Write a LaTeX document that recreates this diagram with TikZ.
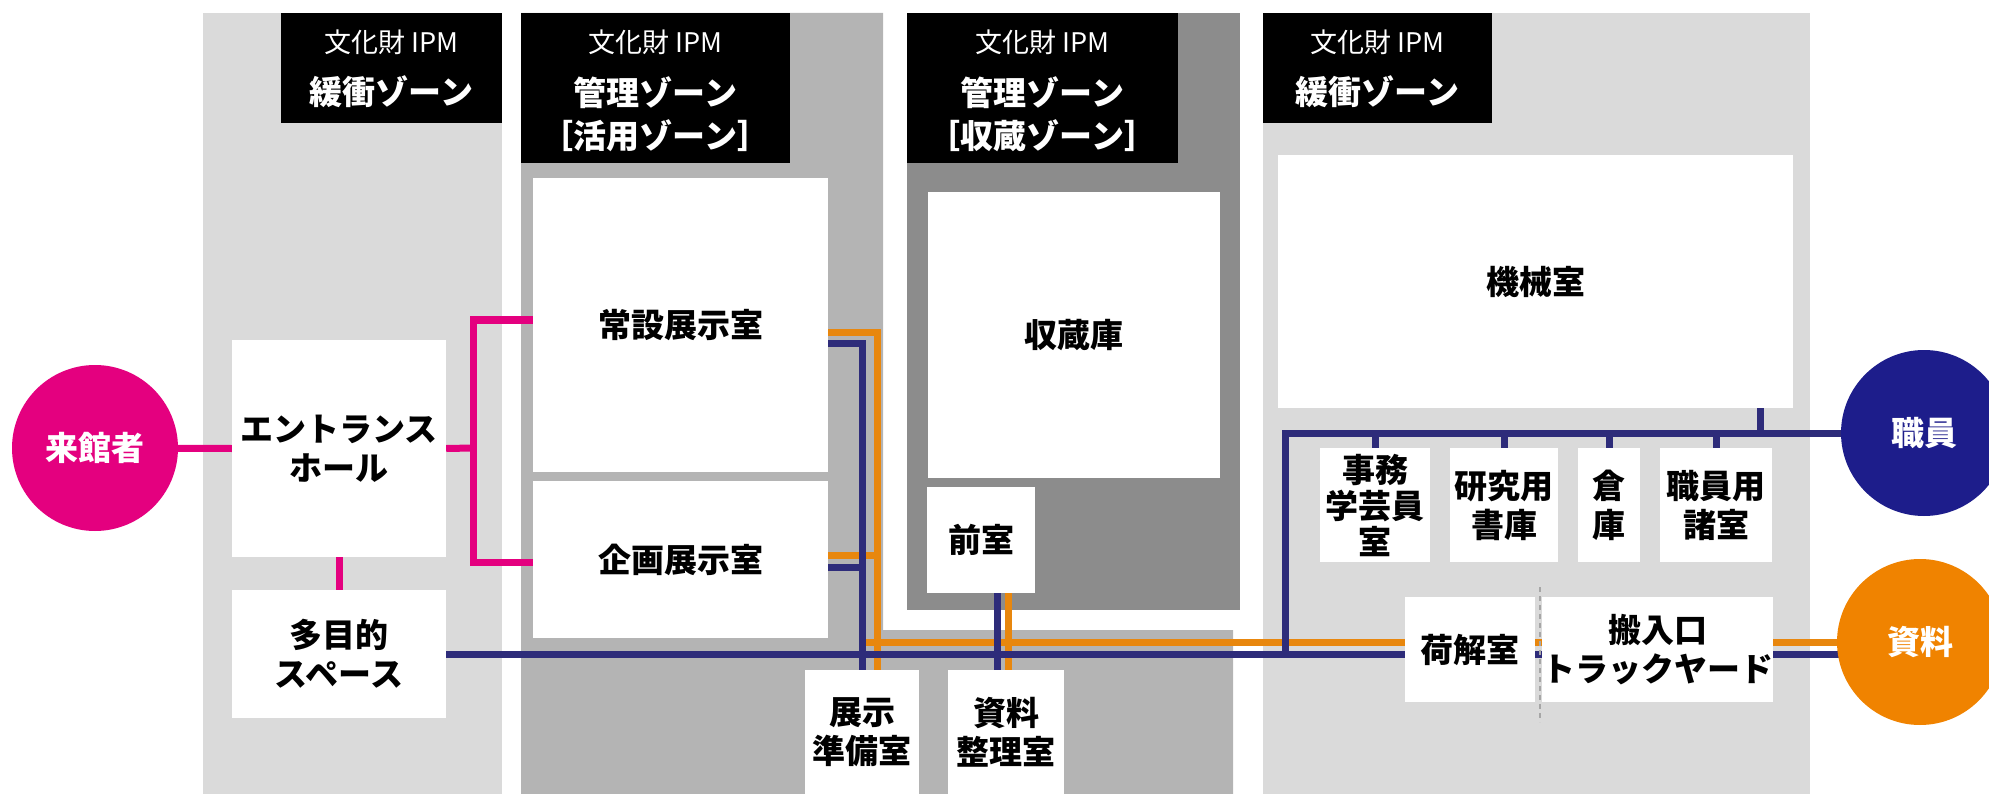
\documentclass[tikz,border=0pt]{standalone}
\usepackage{fontspec}
\setmainfont{Noto Sans CJK JP}
\usetikzlibrary{calc}
\definecolor{plight}{HTML}{DADADA}
\definecolor{pmid}{HTML}{B4B4B4}
\definecolor{pdark}{HTML}{8C8C8C}
\definecolor{mag}{HTML}{E4007F}
\definecolor{nav}{HTML}{2E2C7A}
\definecolor{navc}{HTML}{1D1D8B}
\definecolor{org}{HTML}{E8870E}
\definecolor{orgc}{HTML}{F08300}
\pgfdeclarelayer{bg}
\pgfdeclarelayer{lines}
\pgfsetlayers{bg,lines,main}
\tikzset{
  room/.style={fill=white, inner sep=0pt, align=center, font=\fontsize{33}{39}\selectfont\bfseries},
  zbox/.style={fill=black, inner sep=0pt},
  ztop/.style={text=white, inner sep=0pt, font=\fontsize{27}{30}\selectfont},
  zname/.style={text=white, inner sep=0pt, font=\fontsize{33}{36}\selectfont\bfseries},
  circ/.style={circle, inner sep=0pt, minimum size=166pt, text=white, font=\fontsize{33}{39}\selectfont\bfseries},
  magl/.style={draw=mag, line width=7pt},
  navl/.style={draw=nav, line width=7pt},
  orgl/.style={draw=org, line width=7pt},
}
\begin{document}
\begin{tikzpicture}[x=1pt,y=-1pt]
\useasboundingbox (0,0) rectangle (1989,794);
% zone panels
\begin{pgfonlayer}{bg}
\fill[plight] (203,13) rectangle (502,794);
\fill[pmid] (521,13) -- (883,13) -- (883,630) -- (1233,630) -- (1233,794) -- (521,794) -- cycle;
\fill[pdark] (907,13) rectangle (1240,610);
\fill[plight] (1263,13) rectangle (1810,794);
\end{pgfonlayer}
% zone labels
\node[zbox, minimum width=221pt, minimum height=110pt] (lab1) at (391.5,68) {};
\node[ztop] (lab1a) at (391.5,42) {文化財 IPM};
\node[zname] (lab1b) at (391.5,92) {緩衝ゾーン};
\node[zbox, minimum width=269pt, minimum height=150pt] (lab2) at (655.5,88) {};
\node[ztop] (lab2a) at (655.5,42) {文化財 IPM};
\node[zname] (lab2b) at (655.5,93) {管理ゾーン};
\node[zname] (lab2c) at (655.5,136) {［活用ゾーン］};
\node[zbox, minimum width=271pt, minimum height=150pt] (lab3) at (1042.5,88) {};
\node[ztop] (lab3a) at (1042.5,42) {文化財 IPM};
\node[zname] (lab3b) at (1042.5,93) {管理ゾーン};
\node[zname] (lab3c) at (1042.5,136) {［収蔵ゾーン］};
\node[zbox, minimum width=229pt, minimum height=110pt] (lab4) at (1377.5,68) {};
\node[ztop] (lab4a) at (1377.5,42) {文化財 IPM};
\node[zname] (lab4b) at (1377.5,92) {緩衝ゾーン};
% rooms
\node[room, minimum width=214pt, minimum height=217pt] (ent) at (339,448.5) {エントランス\\ホール};
\node[room, minimum width=214pt, minimum height=128pt] (tamoku) at (339,654) {多目的\\スペース};
\node[room, minimum width=295pt, minimum height=294pt] (jousetsu) at (680.5,325) {常設展示室};
\node[room, minimum width=295pt, minimum height=157pt] (kikaku) at (680.5,559.5) {企画展示室};
\node[room, minimum width=292pt, minimum height=286pt] (shuzou) at (1074,335) {収蔵庫};
\node[room, minimum width=108pt, minimum height=106pt] (zen) at (981,540) {前室};
\node[room, minimum width=114pt, minimum height=124pt] (tenji) at (862,732) {展示\\準備室};
\node[room, minimum width=116pt, minimum height=124pt] (seiri) at (1006,732) {資料\\整理室};
\node[room, minimum width=515pt, minimum height=253pt] (kikai) at (1535.5,281.5) {機械室};
\node[room, minimum width=110pt, minimum height=114pt, font=\fontsize{33}{36}\selectfont\bfseries] (jimu) at (1375,505) {事務\\学芸員\\室};
\node[room, minimum width=108pt, minimum height=114pt] (kenkyu) at (1504,505) {研究用\\書庫};
\node[room, minimum width=62pt, minimum height=114pt] (souko) at (1609,505) {倉\\庫};
\node[room, minimum width=112pt, minimum height=114pt] (shokuin) at (1716,505) {職員用\\諸室};
\node[room, minimum width=130pt, minimum height=105pt] (nitoki) at (1470,649.5) {荷解室};
\node[room, minimum width=225pt, minimum height=105pt] (hannyu) at (1657.5,649.5) {搬入口\\トラックヤード};
\draw[gray!70, line width=1.5pt, dash pattern=on 5pt off 4pt] (1540,587) -- (1540,722);
% people / things
\node[circ, fill=mag] (vis) at (95,448) {来館者};
\node[circ, fill=navc] (staff) at (1924,433) {職員};
\node[circ, fill=orgc] (mat) at (1920,642) {資料};
% connectors
\coordinate (brk) at (473,448);
\coordinate (bt) at (473,320);
\coordinate (bb) at (473,562);
\coordinate (jo) at (828,332);
\coordinate (jn) at (828,343);
\coordinate (ko) at (828,555);
\coordinate (kn) at (828,567);
\coordinate (o0) at (862,642);
\coordinate (zn) at (997,593);
\coordinate (zo) at (1008,593);
\coordinate (oc) at (1285,654);
\coordinate (ks) at (1760,408);
\coordinate (tno) at ([xshift=15pt]tenji.north);
\begin{pgfonlayer}{lines}
\draw[magl] (vis) -- (ent.west);
\draw[magl] (ent.east) -- (brk);
\draw[magl] (bt -| jousetsu.west) -- (bt) -- (bb) -- (bb -| kikaku.west);
\draw[magl] (ent.south) -- (tamoku.north);
\draw[orgl] (o0) -- (o0 -| mat);
\draw[orgl] (jo) -| (tno);
\draw[orgl] (ko) -- (ko -| tno);
\draw[orgl] (zo) -- (zo |- seiri.north);
\draw[navl] (tamoku.east) -- (tamoku.east -| mat);
\draw[navl] (jn) -| (tenji.north);
\draw[navl] (kn) -- (kn -| tenji.north);
\draw[navl] (zn) -- (zn |- seiri.north);
\draw[navl] (oc) |- (staff);
\draw[navl] (jimu.north) -- (jimu.north |- staff);
\draw[navl] (kenkyu.north) -- (kenkyu.north |- staff);
\draw[navl] (souko.north) -- (souko.north |- staff);
\draw[navl] (shokuin.north) -- (shokuin.north |- staff);
\draw[navl] (ks) -- (ks |- staff);
\end{pgfonlayer}
\end{tikzpicture}
\end{document}
